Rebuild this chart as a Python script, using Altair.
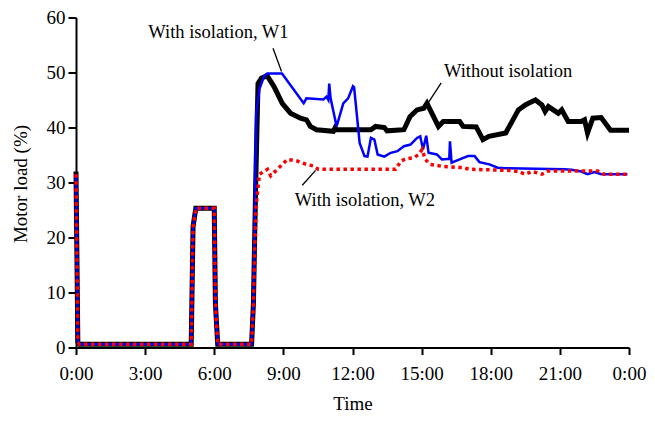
import altair as alt
import pandas as pd

# ---- data (hours since midnight, motor load %) ----
t_without = [0, 0.08, 0.15, 5.0, 5.08, 5.2, 6.0, 6.05, 6.15, 7.62, 7.7, 7.8, 7.9, 8.05, 8.3,
             8.6, 8.95, 9.31, 9.74, 10.0, 10.17, 10.44, 11.17, 11.24, 11.3, 12.8, 13.0, 13.38,
             13.5, 14.23, 14.5, 14.8, 15.09, 15.23, 15.73, 15.94, 16.65, 16.8, 17.37, 17.66,
             17.92, 18.65, 19.2, 19.5, 19.64, 19.94, 20.22, 20.36, 20.5, 20.93, 21.08, 21.36,
             21.93, 22.07, 22.2, 22.43, 22.79, 23.2, 24.0]
v_without = [32, 1.0, 0.6, 0.6, 22, 25.3, 25.3, 8, 0.6, 0.6, 8, 30, 48, 49, 49.4,
             47.4, 44.4, 42.6, 41.7, 41.4, 40.2, 39.6, 39.3, 39.9, 39.6, 39.6, 40.2, 40.0,
             39.4, 39.6, 42.0, 43.2, 43.5, 44.4, 40.2, 41.1, 41.1, 40.2, 40.1, 37.8,
             38.4, 39.0, 43.2, 44.1, 44.4, 45.0, 44.1, 42.9, 43.8, 42.6, 43.2, 41.1,
             41.1, 41.4, 39.0, 41.7, 41.8, 39.5, 39.5]

t_w1 = [0, 0.08, 0.15, 5.0, 5.08, 5.2, 6.0, 6.05, 6.15, 7.62, 7.7, 7.82, 7.96, 8.17, 8.3,
        8.94, 9.88, 10.0, 10.74, 10.87, 10.95, 10.99, 11.05, 11.31, 11.6, 11.81, 12.02,
        12.07, 12.31, 12.52, 12.65, 12.8, 12.95, 13.09, 13.38, 13.66, 13.95, 14.23, 14.52,
        14.8, 14.94, 15.06, 15.2, 15.3, 15.66, 15.88, 16.2, 16.23, 16.3, 16.65, 17.01,
        17.3, 17.51, 17.94, 18.3, 18.65, 21.2, 21.5, 21.93, 22.2, 22.5, 22.8, 23.93]
v_w1 = [31.5, 1.0, 0.6, 0.6, 22, 25.3, 25.3, 8, 0.6, 0.6, 8, 42.6, 47, 49.4, 49.8,
        49.8, 44.4, 45.3, 45.1, 45.6, 45.0, 48.0, 45.3, 40.2, 44.4, 45.3, 47.5,
        47.3, 37.2, 34.8, 34.7, 38.1, 37.8, 35.1, 34.7, 35.4, 35.7, 36.6, 36.9,
        38.1, 38.4, 36.0, 38.5, 35.4, 35.1, 34.2, 34.3, 37.5, 33.6, 34.2, 34.8,
        34.8, 33.7, 33.3, 32.7, 32.6, 32.4, 32.3, 32.0, 31.5, 31.9, 31.5, 31.5]

t_w2 = [0, 0.08, 0.15, 5.0, 5.08, 5.2, 6.0, 6.05, 6.15, 7.62, 7.7, 7.8, 7.96, 8.31, 8.45,
        8.74, 9.17, 9.6, 10.0, 10.3, 10.52, 13.87, 14.1, 14.3, 14.66, 14.87, 15.02, 15.16,
        15.37, 15.94, 16.8, 17.08, 18.8, 19.2, 19.5, 19.8, 20.22, 20.5, 22.64, 22.93, 23.93]
v_w2 = [31.5, 1.0, 0.6, 0.6, 22, 25.3, 25.3, 8, 0.6, 0.6, 8, 25, 31.5, 32.4, 31.2,
        32.4, 34.2, 33.9, 33.3, 33.0, 32.4, 32.4, 33.9, 34.3, 34.5, 35.1, 36.0, 34.2,
        33.3, 32.9, 32.7, 32.4, 32.2, 32.0, 31.5, 32.0, 31.5, 32.1, 32.1, 31.5, 31.5]

x_ticks = [0, 3, 6, 9, 12, 15, 18, 21, 24]
y_ticks = [0, 10, 20, 30, 40, 50, 60]

label_text = ["With isolation, W1", "Without isolation", "With isolation, W2"]
label_t = [6.18, 18.75, 12.54]
label_v = [56.2, 49.2, 25.8]

leader_t1 = [8.55, 15.85, 10.4]
leader_v1 = [54.4, 48.1, 32.2]
leader_t2 = [8.92, 15.27, 9.82]
leader_v2 = [50.2, 44.4, 29.5]

FONT = "Liberation Serif, Times New Roman, serif"

df_wo = pd.DataFrame({"t": t_without, "v": v_without})
df_w1 = pd.DataFrame({"t": t_w1, "v": v_w1})
df_w2 = pd.DataFrame({"t": t_w2, "v": v_w2})
df_lab = pd.DataFrame({"text": label_text, "t": label_t, "v": label_v})
df_lead = pd.DataFrame({"t1": leader_t1, "v1": leader_v1, "t2": leader_t2, "v2": leader_v2})

xscale = alt.Scale(domain=[0, 24], nice=False, zero=False)
yscale = alt.Scale(domain=[0, 60], nice=False)

xaxis = alt.Axis(values=x_ticks, title="Time",
                 labelExpr="datum.value == 24 ? '0:00' : datum.value + ':00'",
                 tickSize=7, labelPadding=9.5, titleY=61.5, titleBaseline="alphabetic",
                 labelFlush=False, labelOverlap=False)
yaxis = alt.Axis(values=y_ticks, title="Motor load (%)", tickSize=8, labelPadding=3,
                 titleX=-55.5, titleY=166, titleBaseline="middle", titleAngle=-90)

base_x = alt.X("t:Q", scale=xscale, axis=xaxis)
base_y = alt.Y("v:Q", scale=yscale, axis=yaxis)

line_wo = alt.Chart(df_wo).mark_line(color="black", strokeWidth=5).encode(
    x=base_x, y=base_y, order="t:Q")
line_w1 = alt.Chart(df_w1).mark_line(color="#0000ff", strokeWidth=2.5).encode(
    x="t:Q", y="v:Q", order="t:Q")
line_w2 = alt.Chart(df_w2).mark_line(color="#ff0000", strokeWidth=3.5,
                                     strokeDash=[3.5, 3.5]).encode(
    x="t:Q", y="v:Q", order="t:Q")

leaders = alt.Chart(df_lead).mark_rule(color="black", strokeWidth=1.3).encode(
    x="t1:Q", y="v1:Q", x2="t2:Q", y2="v2:Q")

labels = alt.Chart(df_lab).mark_text(font=FONT, fontSize=18.5, color="black",
                                     align="center", baseline="alphabetic").encode(
    x="t:Q", y="v:Q", text="text:N")

chart = alt.layer(line_wo, line_w1, line_w2, leaders, labels).properties(
    width=553, height=330,
    autosize=alt.AutoSizeParams(type="none"),
    padding={"left": 68, "top": 9.5, "right": 18, "bottom": 66.5},
).configure_view(stroke=None).configure_axis(
    grid=False, domainColor="black", domainWidth=2, tickColor="black", tickWidth=2,
    labelFont=FONT, labelFontSize=19, labelColor="black",
    titleFont=FONT, titleFontSize=19, titleColor="black", titleFontWeight="normal",
)

chart.save("out.html", embed_options={"renderer": "svg", "actions": False})
